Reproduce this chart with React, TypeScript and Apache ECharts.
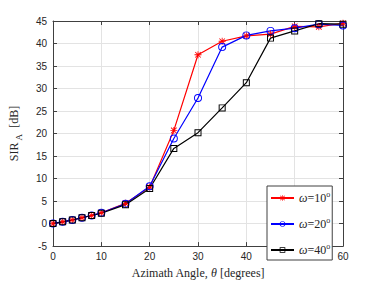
import React, { useEffect, useRef } from "react";
import * as echarts from "echarts";

const angles = [0, 2, 4, 6, 8, 10, 15, 20, 25, 30, 35, 40, 45, 50, 55, 60];
const sir10 = [0, 0.4, 0.8, 1.3, 1.8, 2.4, 4.5, 8.1, 20.7, 37.5, 40.5, 41.7, 42.1, 43.8, 43.7, 44.5];
const sir20 = [0, 0.4, 0.8, 1.3, 1.8, 2.4, 4.4, 8.3, 18.9, 27.9, 39.2, 41.8, 42.8, 43.4, 44.3, 44.0];
const sir40 = [0, 0.4, 0.8, 1.3, 1.8, 2.3, 4.2, 7.8, 16.7, 20.2, 25.7, 31.3, 41.2, 42.8, 44.4, 44.3];
const seriesNames = ["ω=10°", "ω=20°", "ω=40°"];
const legendLabels = ["10", "20", "40"];

const asterisk =
  "path://M4.4,0 L5.6,0 L5.6,10 L4.4,10 Z M0,4.4 L10,4.4 L10,5.6 L0,5.6 Z M0.6,1.45 L1.45,0.6 L9.4,8.55 L8.55,9.4 Z M8.55,0.6 L9.4,1.45 L1.45,9.4 L0.6,8.55 Z";
const ringCircle =
  "path://M5,0 A5,5 0 1,1 5,10 A5,5 0 1,1 5,0 Z M5,1.2 A3.8,3.8 0 1,0 5,8.8 A3.8,3.8 0 1,0 5,1.2 Z";
const ringSquare = "path://M0,0 L10,0 L10,10 L0,10 Z M1.4,1.4 L1.4,8.6 L8.6,8.6 L8.6,1.4 Z";

export default function App() {
  const ref = useRef<HTMLDivElement>(null);
  useEffect(() => {
    if (!ref.current) return;
    const chart = echarts.init(ref.current, undefined, { renderer: "svg" });
    const axisColor = "#404040";
    const tickFont = { fontFamily: "Liberation Sans", fontSize: 10, color: "#262626" };
    const mk = (name: string, data: number[], color: string, symbol: string, size: number) => ({
      name,
      type: "line",
      data: angles.map((a, i) => [a, data[i]]),
      color,
      symbol,
      symbolSize: size,
      showSymbol: true,
      lineStyle: { color, width: 1.2 },
      itemStyle: { color },
      z: 3,
    });
    chart.setOption({
      animation: false,
      backgroundColor: "#fff",
      grid: { left: 49, right: 36, top: 21, bottom: 32, containLabel: false },
      xAxis: [
        {
          type: "value",
          min: 0,
          max: 60,
          interval: 10,
          axisLine: { show: true, onZero: false, lineStyle: { color: axisColor, width: 1 } },
          axisTick: { show: true, inside: true, length: 4, lineStyle: { color: axisColor } },
          axisLabel: { ...tickFont, margin: 5 },
          splitLine: { show: true, lineStyle: { color: "#e3e3e3", width: 1 } },
          name: "Azimath Angle, {t|θ} [degrees]",
          nameLocation: "middle",
          nameGap: 15,
          nameTextStyle: {
            fontFamily: "Liberation Serif",
            fontSize: 12,
            lineHeight: 14,
            color: "#262626",
            rich: { t: { fontFamily: "Liberation Serif", fontStyle: "italic", fontSize: 12, lineHeight: 14, color: "#262626" } },
          },
        },
        {
          type: "value",
          position: "top",
          min: 0,
          max: 60,
          interval: 10,
          axisLine: { show: true, onZero: false, lineStyle: { color: axisColor, width: 1 } },
          axisTick: { show: true, inside: true, length: 4, lineStyle: { color: axisColor } },
          axisLabel: { show: false },
          splitLine: { show: false },
        },
      ],
      yAxis: [
        {
          type: "value",
          min: -5,
          max: 45,
          interval: 5,
          axisLine: { show: true, onZero: false, lineStyle: { color: axisColor, width: 1 } },
          axisTick: { show: true, inside: true, length: 4, lineStyle: { color: axisColor } },
          axisLabel: { ...tickFont, margin: 6 },
          splitLine: { show: true, lineStyle: { color: "#e3e3e3", width: 1 } },
          name: "SIR{s| A}  [dB]",
          nameLocation: "middle",
          nameRotate: 90,
          nameGap: 30,
          nameTextStyle: {
            fontFamily: "Liberation Serif",
            fontSize: 12,
            color: "#262626",
            rich: { s: { fontFamily: "Liberation Serif", fontSize: 9, color: "#262626", padding: [9, 0, 0, 0] } },
          },
        },
        {
          type: "value",
          position: "right",
          min: -5,
          max: 45,
          interval: 5,
          axisLine: { show: true, onZero: false, lineStyle: { color: axisColor, width: 1 } },
          axisTick: { show: true, inside: true, length: 4, lineStyle: { color: axisColor } },
          axisLabel: { show: false },
          splitLine: { show: false },
        },
      ],
      legend: {
        orient: "vertical",
        left: 267,
        top: 186,
        padding: [4, 2, 4, 3],
        backgroundColor: "#fff",
        borderColor: "#404040",
        borderWidth: 1,
        borderRadius: 0,
        itemWidth: 23,
        itemHeight: 7,
        itemGap: 12,
        data: seriesNames,
        formatter: (n: string) => {
          const i = seriesNames.indexOf(n);
          return "{w|ω}=" + legendLabels[i] + "{o|o}";
        },
        textStyle: {
          fontFamily: "Liberation Serif",
          fontSize: 12,
          color: "#262626",
          rich: {
            w: { fontFamily: "Liberation Serif", fontStyle: "italic", fontSize: 12, color: "#262626" },
            o: { fontFamily: "Liberation Serif", fontSize: 8, color: "#262626", padding: [0, 0, 8, 0] },
          },
        },
      },
      series: [
        mk(seriesNames[0], sir10, "#ff0000", asterisk, 7),
        mk(seriesNames[1], sir20, "#0000ff", ringCircle, 8),
        mk(seriesNames[2], sir40, "#000000", ringSquare, 7),
      ],
    });
    return () => chart.dispose();
  }, []);
  return <div ref={ref} style={{ position: "absolute", left: 0, top: 0, width: 379, height: 285 }} />;
}
